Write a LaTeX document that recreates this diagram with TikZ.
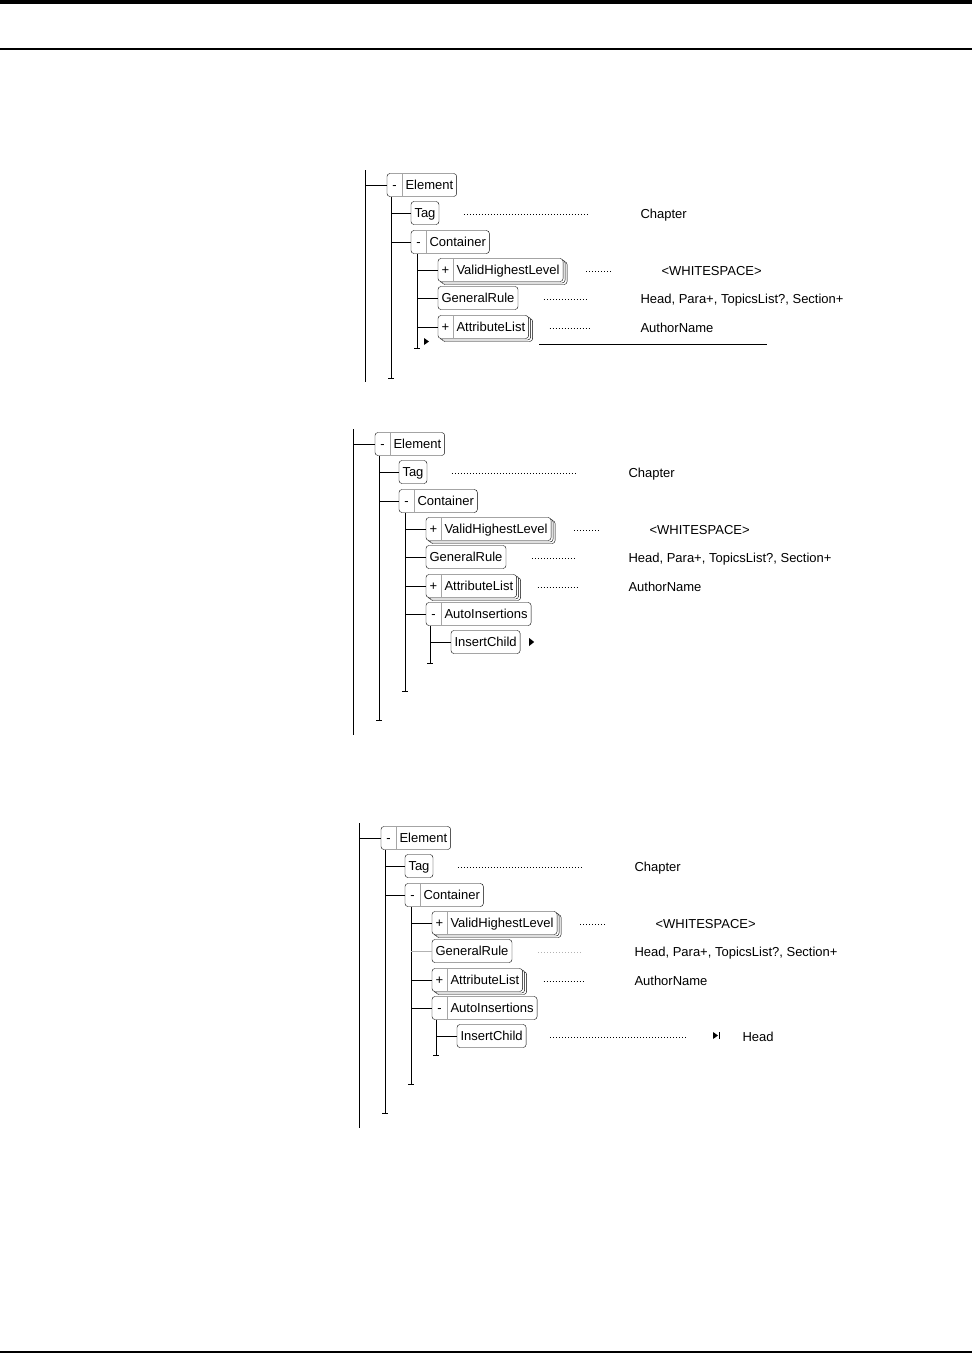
\documentclass[tikz,border=0pt]{standalone}
\usepackage{fontspec}
\newfontfamily\guifont{Liberation Sans}
\usetikzlibrary{positioning, backgrounds}
\tikzset{
  lbl/.style     = {font=\guifont\fontsize{13}{15}\selectfont, inner xsep=3pt, inner ysep=0pt,
                    text height=10pt, text depth=2pt, minimum height=22pt},
  sgn/.style     = {lbl, inner xsep=0pt, minimum width=14pt},
  frame/.style   = {draw, fill=white, rounded corners=3pt},
  divider/.style = {draw=gray!70},
  leader/.style  = {dash pattern=on 1pt off 2pt},
  note/.style    = {font=\guifont\fontsize{13}{15}\selectfont, inner sep=0pt,
                    text height=10pt, text depth=2pt, anchor=west},
}

\begin{document}
\begin{tikzpicture}[x=1pt, y=-1pt, line width=1pt]
  \useasboundingbox (0,0) rectangle (972,1353);

  % page rules
  \fill (0,0) rectangle (972,4);
  \draw[line width=1.3pt] (0,49) -- (972,49);
  \draw[line width=1.3pt] (0,1352) -- (972,1352);

  % the three trees, common part
  \foreach \tr/\dx/\dy/\rootend/\elend/\ctend/\grcol in
      {a/0/0/382/378/348/black, b/-12/259/476/461/432/black, c/-6/653/475/460/431/gray!60} {
  \begin{scope}[shift={(\dx,\dy)}]
    \node[sgn, anchor=west] (elS\tr) at (387,185) {-};
    \node[lbl, right=0pt of elS\tr] (el\tr) {Element};
    \node[lbl, anchor=west] (tg\tr) at (411,213) {Tag};
    \node[sgn, anchor=west] (ctS\tr) at (411,242) {-};
    \node[lbl, right=0pt of ctS\tr] (ct\tr) {Container};
    \node[sgn, anchor=west] (vhS\tr) at (438,270) {+};
    \node[lbl, right=0pt of vhS\tr] (vh\tr) {ValidHighestLevel};
    \node[lbl, anchor=west] (gr\tr) at (438,298) {GeneralRule};
    \node[sgn, anchor=west] (alS\tr) at (438,327) {+};
    \node[lbl, right=0pt of alS\tr] (al\tr) {AttributeList};

    % values
    \node[note] (ch\tr) at (640,214) {Chapter};
    \node[note] (ws\tr) at (661,271) {<WHITESPACE>};
    \node[note] (hd\tr) at (640,299) {Head, Para+, TopicsList?, Section+};
    \node[note] (au\tr) at (640,328) {AuthorName};
    \draw[leader] ([xshift=25pt,yshift=-1pt]tg\tr.east) -- ([xshift=-52pt]ch\tr.west);
    \draw[leader] ([xshift=23pt,yshift=-1pt]vh\tr.east) -- ([xshift=-50pt]ws\tr.west);
    \draw[leader, draw=\grcol] ([xshift=26pt,yshift=-1pt]gr\tr.east) -- ([xshift=-52pt]hd\tr.west);
    \draw[leader] ([xshift=21pt,yshift=-1pt]al\tr.east) -- ([xshift=-51pt]au\tr.west);

    % tree lines
    \coordinate (rootTop\tr) at (365,170);
    \coordinate (rootEnd\tr) at (365,\rootend);
    \coordinate (elEnd\tr) at (391,\elend);
    \coordinate (ctEnd\tr) at (417,\ctend);
    \draw (rootTop\tr) -- (rootEnd\tr);
    \draw (rootTop\tr |- elS\tr.west) -- (elS\tr.west);
    \draw (elS\tr.south west -| elEnd\tr) -- (elEnd\tr);
    \draw ([xshift=-3pt]elEnd\tr) -- ([xshift=3pt]elEnd\tr);
    \draw (elEnd\tr |- tg\tr.west) -- (tg\tr.west);
    \draw (elEnd\tr |- ctS\tr.west) -- (ctS\tr.west);
    \draw (ctS\tr.south west -| ctEnd\tr) -- (ctEnd\tr);
    \draw ([xshift=-3pt]ctEnd\tr) -- ([xshift=3pt]ctEnd\tr);
    \draw (ctEnd\tr |- vhS\tr.west) -- (vhS\tr.west);
    \draw[draw=\grcol] (ctEnd\tr |- gr\tr.west) -- (gr\tr.west);
    \draw (ctEnd\tr |- alS\tr.west) -- (alS\tr.west);

    % box frames
    \begin{scope}[on background layer]
      \draw[frame] (elS\tr.north west) rectangle (el\tr.south east);
      \draw[divider] (el\tr.north west) -- (el\tr.south west);
      \draw[frame] (tg\tr.north west) rectangle (tg\tr.south east);
      \draw[frame] (ctS\tr.north west) rectangle (ct\tr.south east);
      \draw[divider] (ct\tr.north west) -- (ct\tr.south west);
      \draw[frame] ([xshift=4pt,yshift=-3pt]vhS\tr.north west) rectangle ([xshift=4pt,yshift=-3pt]vh\tr.south east);
      \draw[frame] ([xshift=2pt,yshift=-1.5pt]vhS\tr.north west) rectangle ([xshift=2pt,yshift=-1.5pt]vh\tr.south east);
      \draw[frame] (vhS\tr.north west) rectangle (vh\tr.south east);
      \draw[divider] (vh\tr.north west) -- (vh\tr.south west);
      \draw[frame] (gr\tr.north west) rectangle (gr\tr.south east);
      \draw[frame] ([xshift=4pt,yshift=-3pt]alS\tr.north west) rectangle ([xshift=4pt,yshift=-3pt]al\tr.south east);
      \draw[frame] ([xshift=2pt,yshift=-1.5pt]alS\tr.north west) rectangle ([xshift=2pt,yshift=-1.5pt]al\tr.south east);
      \draw[frame] (alS\tr.north west) rectangle (al\tr.south east);
      \draw[divider] (al\tr.north west) -- (al\tr.south west);
    \end{scope}
  \end{scope}
  }

  % AutoInsertions in the second and third tree
  \foreach \tr/\dx/\dy/\aiend in {b/-12/259/404, c/-6/653/402} {
  \begin{scope}[shift={(\dx,\dy)}]
    \node[sgn, anchor=west] (aiS\tr) at (438,355) {-};
    \node[lbl, right=0pt of aiS\tr] (ai\tr) {AutoInsertions};
    \node[lbl, anchor=west] (ic\tr) at (463,383) {InsertChild};
    \coordinate (aiEnd\tr) at (442,\aiend);
    \draw (ctEnd\tr |- aiS\tr.west) -- (aiS\tr.west);
    \draw (aiS\tr.south west -| aiEnd\tr) -- (aiEnd\tr);
    \draw ([xshift=-3pt]aiEnd\tr) -- ([xshift=3pt]aiEnd\tr);
    \draw (aiEnd\tr |- ic\tr.west) -- (ic\tr.west);
    \begin{scope}[on background layer]
      \draw[frame] (aiS\tr.north west) rectangle (ai\tr.south east);
      \draw[divider] (ai\tr.north west) -- (ai\tr.south west);
      \draw[frame] (ic\tr.north west) rectangle (ic\tr.south east);
    \end{scope}
  \end{scope}
  }

  % first tree: insertion point and entry line
  \fill ([xshift=7pt,yshift=10pt]ctEnda) -- ([xshift=12pt,yshift=6.5pt]ctEnda)
        -- ([xshift=7pt,yshift=3pt]ctEnda) -- cycle;
  \coordinate (lnA) at (539,344);
  \coordinate (lnB) at (767,344);
  \draw (lnA) -- (lnB);

  % second tree: marker after InsertChild
  \fill ([xshift=9pt,yshift=4pt]icb.east) -- ([xshift=14pt]icb.east)
        -- ([xshift=9pt,yshift=-4pt]icb.east) -- cycle;

  % third tree: InsertChild value
  \node[note] (hdi) at (742,1037) {Head};
  \draw[leader] ([xshift=24pt,yshift=-1pt]icc.east) -- ([xshift=-54pt]hdi.west);
  \fill ([xshift=-29pt,yshift=5pt]hdi.west) -- ([xshift=-24pt,yshift=1.5pt]hdi.west)
        -- ([xshift=-29pt,yshift=-2pt]hdi.west) -- cycle;
  \draw ([xshift=-22.5pt,yshift=5pt]hdi.west) -- ([xshift=-22.5pt,yshift=-2pt]hdi.west);
\end{tikzpicture}
\end{document}
